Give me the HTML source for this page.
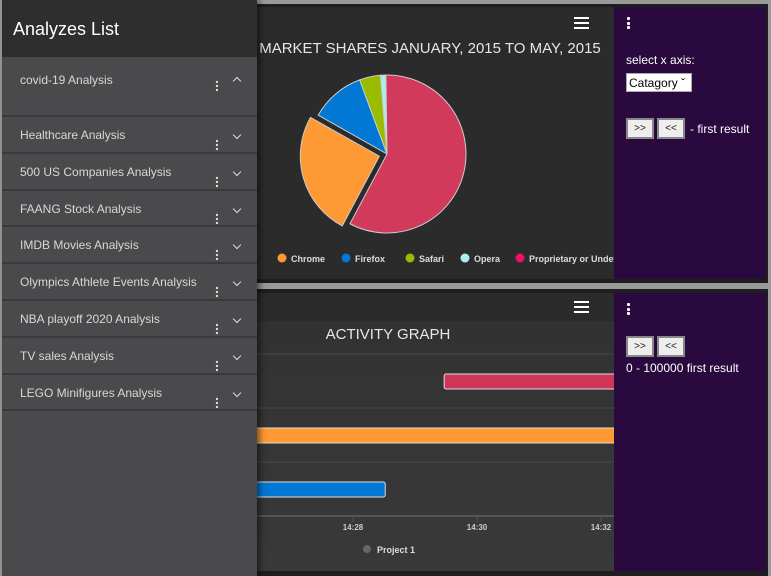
<!DOCTYPE html>
<html><head><meta charset="utf-8"><style>
*{margin:0;padding:0;box-sizing:border-box}
body{width:771px;height:576px;background:#9a9a9a;position:relative;overflow:hidden;font-family:"Liberation Sans",sans-serif}
.abs{position:absolute}
.frame{background:#1e1e1e}
.item{position:absolute;left:2px;width:255px;background:#4a494b;border-bottom:2px solid #3a393b;color:#d8d8d8;font-size:12px}
.item .t{position:absolute;left:18px}
.item .d{position:absolute;left:213px;font-size:14px;font-weight:bold;color:#ddd;line-height:4px}
.item .c{position:absolute;left:232px;width:6px;height:6px;border-right:1.5px solid #ddd;border-bottom:1.5px solid #ddd;transform:rotate(45deg)}
.item .c.up{transform:rotate(-135deg)}
.purple{background:#2a0a3e;color:#fff;font-size:12px}
.btn{position:absolute;width:28px;height:21px;background:#eee;border:2px solid #888;color:#222;font-size:10px;text-align:center;line-height:17px}
.dots{position:absolute;width:4px}
.dots i{display:block;width:3px;height:3px;background:#fff;margin-bottom:1.5px;border-radius:1px}
.ham{position:absolute;width:15px}
.ham i{display:block;height:2px;background:#fff;margin-bottom:3px}
</style></head><body>
<div class="abs frame" style="left:250px;top:4px;width:518px;height:279px"></div>
<div class="abs" style="left:252px;top:7px;width:362px;height:272px;background:#2b2b2c"></div>
<div class="abs frame" style="left:250px;top:289px;width:518px;height:287px"></div>
<div class="abs" style="left:252px;top:293px;width:362px;height:28px;background:#2b2b2c"></div>
<div class="abs" style="left:252px;top:321px;width:362px;height:250px;background:linear-gradient(#323233,#39393a)"></div>

<svg class="abs" style="left:0;top:0" width="771" height="576">
<text x="430" y="53" fill="#e6e6e6" font-size="15" text-anchor="middle" font-family="Liberation Sans">MARKET SHARES JANUARY, 2015 TO MAY, 2015</text>
<g id="pie"></g>
<g id="legend"></g>
<text x="388" y="339" fill="#e6e6e6" font-size="15" text-anchor="middle" font-family="Liberation Sans">ACTIVITY GRAPH</text>
<g id="gantt"></g>
<circle cx="367" cy="549" r="4" fill="#666"/>
<text x="377" y="553" fill="#ddd" font-size="9" font-weight="bold" font-family="Liberation Sans">Project 1</text>
</svg>

<div class="ham" style="left:574px;top:17px"><i></i><i></i><i></i></div>
<div class="ham" style="left:574px;top:301px"><i></i><i></i><i></i></div>

<div class="abs purple" style="left:614px;top:7px;width:152px;height:272px">
 <div class="dots" style="left:13px;top:10px"><i></i><i></i><i></i></div>
 <div class="abs" style="left:12px;top:46px">select x axis:</div>
 <div class="abs" style="left:12px;top:66px;width:66px;height:19px;background:#fff;color:#000;font-size:12px;padding:2px 2px;border:1px solid #aaa">Catagory &#711;</div>
 <div class="btn" style="left:12px;top:111px">&gt;&gt;</div>
 <div class="btn" style="left:43px;top:111px">&lt;&lt;</div>
 <div class="abs" style="left:76px;top:115px">- first result</div>
</div>
<div class="abs purple" style="left:614px;top:293px;width:152px;height:278px">
 <div class="dots" style="left:13px;top:10px"><i></i><i></i><i></i></div>
 <div class="btn" style="left:12px;top:43px">&gt;&gt;</div>
 <div class="btn" style="left:43px;top:43px">&lt;&lt;</div>
 <div class="abs" style="left:12px;top:68px">0 - 100000 first result</div>
</div>

<div class="abs" style="left:2px;top:0;width:255px;height:576px;background:#4a494b;box-shadow:3px 0 6px rgba(0,0,0,.5)">
 <div class="abs" style="left:0;top:0;width:255px;height:57px;background:#2e2e2e">
  <div class="abs" style="left:11px;top:19px;color:#fff;font-size:18px">Analyzes List</div>
 </div>
</div>
<div id="items"></div>

<script>
const pieLabels=["Chrome","Firefox","Safari","Opera","Proprietary or Undetectable"];
const pieValues=[25.4,11.2,4.3,1.1,58.0];
const pieColors=["#ff9933","#0078d4","#99bb00","#aaeeee","#d23a5c"];
const legendColors=["#ff9933","#0078d4","#99bb00","#aaeeee","#ee1166"];
const pieStartAngle=-152;
const ganttTicks=["14:28","14:30","14:32"];
const tickMinutes=[28,30,32];
const taskStart=[29.47,25.0,25.0];
const taskEnd=[34.0,34.0,28.52];
const taskColors=["#d0365a","#ff9933","#0078d4"];
const items=["covid-19 Analysis","Healthcare Analysis","500 US Companies Analysis","FAANG Stock Analysis","IMDB Movies Analysis","Olympics Athlete Events Analysis","NBA playoff 2020 Analysis","TV sales Analysis","LEGO Minifigures Analysis"];

const NS="http://www.w3.org/2000/svg";
function mk(tag,attrs,parent){const e=document.createElementNS(NS,tag);for(const k in attrs)e.setAttribute(k,attrs[k]);parent.appendChild(e);return e;}
const pie=document.getElementById('pie');
const cx=387,cy=154,r=79;
const total=pieValues.reduce((a,b)=>a+b,0);
let a=pieStartAngle;
pieValues.forEach((v,i)=>{
 const sweep=v/total*360;const a0=a,a1=a+sweep;a=a1;
 const mid=(a0+a1)/2*Math.PI/180;
 const off=i===0?8:0;
 const ox=cx+off*Math.sin(mid),oy=cy-off*Math.cos(mid);
 const p=t=>[ox+r*Math.sin(t*Math.PI/180),oy-r*Math.cos(t*Math.PI/180)];
 const s=p(a0),e=p(a1);
 const path=mk('path',{d:`M${ox},${oy}L${s[0]},${s[1]}A${r},${r} 0 ${sweep>180?1:0} 1 ${e[0]},${e[1]}Z`,fill:pieColors[i],stroke:'#ccc','stroke-width':1},pie);
 
 
});
const lg=document.getElementById('legend');
const lx=[282,346,410,465,520];
pieLabels.forEach((l,i)=>{
 const c=mk('circle',{cx:lx[i],cy:258,r:4.5,fill:legendColors[i]},lg);
 
 
 const t=mk('text',{x:lx[i]+9,y:262,fill:'#ddd','font-size':9,'font-weight':'bold','font-family':'Liberation Sans'},lg);
 t.textContent=l;
 
 
});
const g=document.getElementById('gantt');
const xs=m=>353+(m-28)*62;
const rowTop=354,rowH=54;
const clip=mk('clipPath',{id:'gc'},g);mk('rect',{x:252,y:330,width:362,height:200},clip);
const gg=mk('g',{'clip-path':'url(#gc)'},g);
for(let k=0;k<=3;k++){const ln=mk('line',{x1:252,x2:614,y1:rowTop+k*rowH,y2:rowTop+k*rowH,stroke:k===3?'#555':'#4a4a4a','stroke-width':k===3?2:1},gg);
 
 }
taskStart.forEach((s,i)=>{
 const x0=xs(s),x1=xs(taskEnd[i]);
 const b=mk('rect',{x:x0,y:rowTop+20+i*rowH,width:x1-x0,height:15,rx:2,fill:taskColors[i],stroke:'#ddd','stroke-width':1},gg);
 
 
});
ganttTicks.forEach((t,i)=>{
 const x=xs(tickMinutes[i]);
 mk('line',{x1:x,x2:x,y1:517,y2:522,stroke:'#555'},g);
 const tx=mk('text',{x:x,y:530,fill:'#ccc','font-size':8,'font-weight':'bold','text-anchor':'middle','font-family':'Liberation Sans'},g);
 tx.textContent=t;
 
 
});
const box=document.getElementById('items');
let y=57;
items.forEach((n,i)=>{
 const h=i===0?60:36.8;
 const d=document.createElement('div');d.className='item';d.style.top=y+'px';d.style.height=h+'px';
 
 
 const tt=i===0?16:11;
 d.innerHTML=`<span class="t" style="top:${tt}px">${n}</span><span class="d" style="top:${i===0?19:18}px">.<br>.<br>.</span><span class="c${i===0?' up':''}" style="top:${i===0?21:15}px"></span>`;
 box.appendChild(d);y+=h;
});
</script>
</body></html>
